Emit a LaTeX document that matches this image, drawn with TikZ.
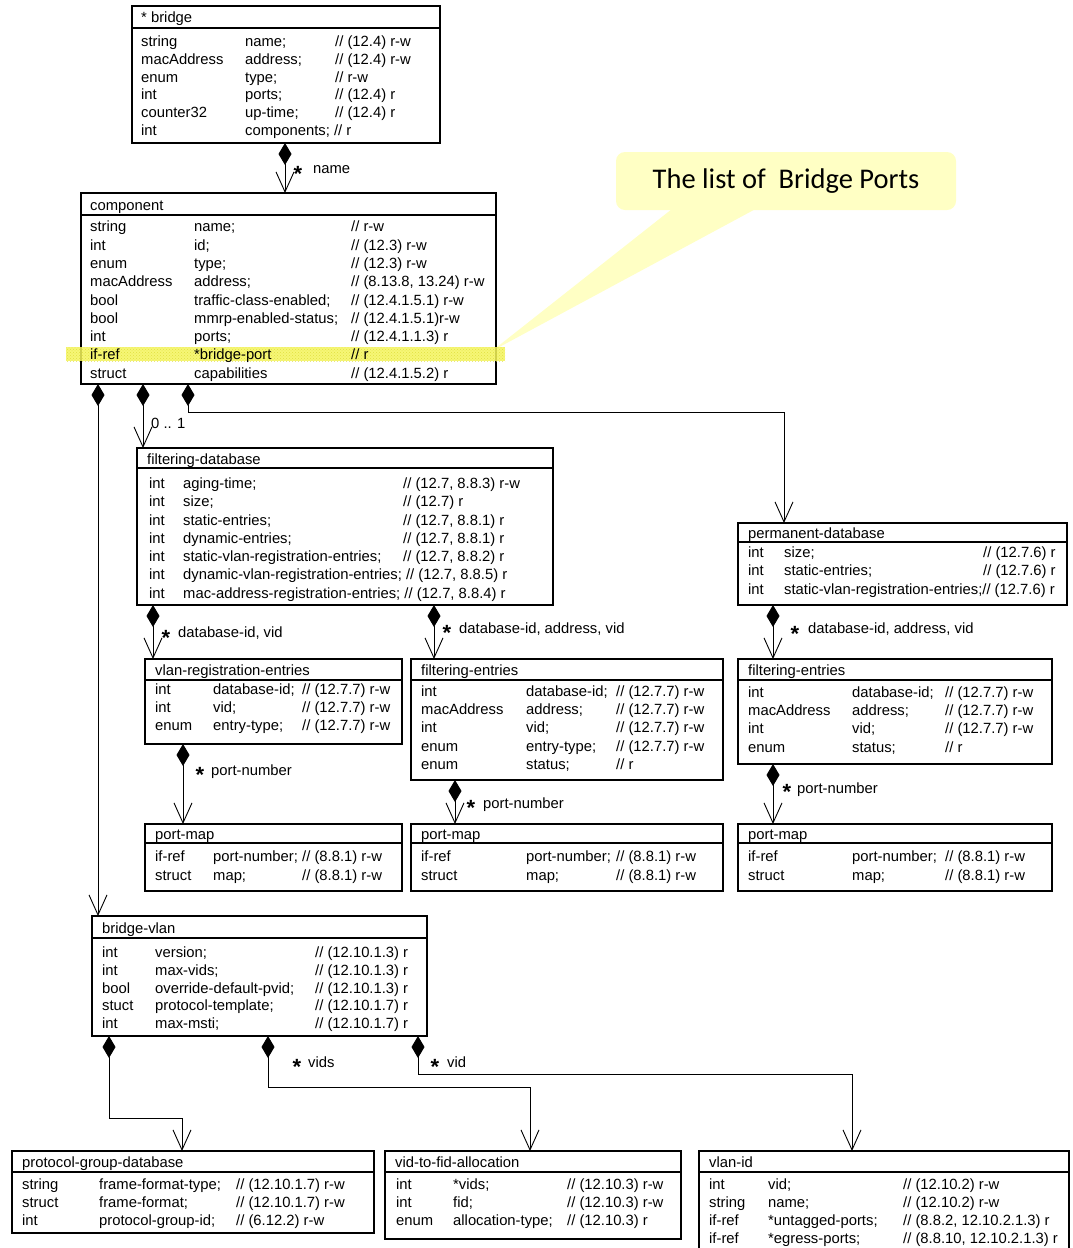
\documentclass[tikz,border=0pt]{standalone}
\usepackage{fontspec}
\setmainfont{Liberation Sans}
\newfontfamily\calloutfont{Carlito}
\usetikzlibrary{arrows.meta,patterns,calc}

\definecolor{notefill}{RGB}{255,255,196}
\definecolor{hlfill}{RGB}{245,245,95}
\definecolor{hldots}{RGB}{215,215,40}

\newcommand\bodyfont{\fontsize{14.8}{17}\selectfont}
\newcounter{txtno}
% class box: name, left, top, right, bottom, y of the rule under the title
\newcommand\classbox[6]{%
  \node[classframe, minimum width={#4-#2}, minimum height={#5-#3}, anchor=north west] (#1) at (#2,#3) {};
  \draw[classrule] (#2,#6) -- (#4,#6);}
% one piece of text: x, centre line y, text
\newcommand\txt[3]{\stepcounter{txtno}\node[cell] (txt\arabic{txtno}) at (#1,#2+5) {#3};}
% multiplicity star centred at x, y
\newcommand\mult[2]{\stepcounter{txtno}\node[multmark] (txt\arabic{txtno}) at (#1,#2+10.5) {*};}
% column positions of the attribute table
\newcommand\cols[3]{\def\ColOne{#1}\def\ColTwo{#2}\def\ColThree{#3}}
\newcommand\rw[4]{\txt{\ColOne}{#1}{#2}\txt{\ColTwo}{#1}{#3}\txt{\ColThree}{#1}{#4}}
\newcommand\rwj[3]{\txt{\ColOne}{#1}{#2}\txt{\ColTwo}{#1}{#3}}

\begin{document}
\begin{tikzpicture}[x=1pt,y=-1pt,
  classframe/.style={draw, line width=1.8pt, rectangle, inner sep=0pt, outer sep=0pt},
  classrule/.style={line width=1.8pt},
  cell/.style={anchor=base west, inner sep=0pt, font=\bodyfont},
  multmark/.style={anchor=base, inner sep=0pt, font=\fontsize{22}{22}\selectfont\bfseries},
  assoc/.style={line width=0.9pt, {Diamond[length=22pt,width=13pt]}-{Straight Barb[length=20pt,width=18pt]}},
  note/.style={fill=notefill, rounded corners=9pt, inner sep=0pt, minimum width=340pt,
    minimum height=58pt, font=\calloutfont\fontsize{28.5}{30}\selectfont}]

\fill[white] (0,0) rectangle (1072,1248);
\useasboundingbox (0,0) rectangle (1072,1248);

% callout
\node[note] (note) at (786,181) {The list of\ \ Bridge Ports};
\coordinate (tip) at (492,351);
\fill[notefill] ($(note.south)+(-113,-2)$) -- (tip) -- ($(note.south)+(-29,-2)$) -- cycle;

% bridge
\classbox{bridge}{132}{6}{440}{143}{28}
\txt{141}{17}{* bridge}
\cols{141}{245}{335}
\rw{41}{string}{name;}{// (12.4) r-w}
\rw{59}{macAddress}{address;}{// (12.4) r-w}
\rw{77}{enum}{type;}{// r-w}
\rw{94}{int}{ports;}{// (12.4) r}
\rw{112}{counter32}{up-time;}{// (12.4) r}
\rwj{130}{int}{components; // r}

% component
\classbox{comp}{81}{193}{496}{384}{215}
\fill[hlfill, opacity=0.85] (66,347) rectangle (505,361);
\fill[pattern=crosshatch dots, pattern color=hldots, opacity=0.7] (66,347) rectangle (505,361);
\txt{90}{205}{component}
\cols{90}{194}{351}
\rw{226}{string}{name;}{// r-w}
\rw{245}{int}{id;}{// (12.3) r-w}
\rw{263}{enum}{type;}{// (12.3) r-w}
\rw{281}{macAddress}{address;}{// (8.13.8, 13.24) r-w}
\rw{300}{bool}{traffic-class-enabled;}{// (12.4.1.5.1) r-w}
\rw{318}{bool}{mmrp-enabled-status;}{// (12.4.1.5.1)r-w}
\rw{336}{int}{ports;}{// (12.4.1.1.3) r}
\rw{354}{if-ref}{*bridge-port}{// r}
\rw{373}{struct}{capabilities}{// (12.4.1.5.2) r}

% filtering-database
\classbox{fdb}{137}{448}{553}{605}{468}
\txt{147}{459}{filtering-database}
\cols{149}{183}{403}
\rw{483}{int}{aging-time;}{// (12.7, 8.8.3) r-w}
\rw{501}{int}{size;}{// (12.7) r}
\rw{520}{int}{static-entries;}{// (12.7, 8.8.1) r}
\rw{538}{int}{dynamic-entries;}{// (12.7, 8.8.1) r}
\rw{556}{int}{static-vlan-registration-entries;}{// (12.7, 8.8.2) r}
\rwj{574}{int}{dynamic-vlan-registration-entries; // (12.7, 8.8.5) r}
\rwj{593}{int}{mac-address-registration-entries; // (12.7, 8.8.4) r}

% permanent-database
\classbox{pdb}{738}{523}{1067}{605}{542}
\txt{748}{533}{permanent-database}
\cols{748}{784}{983}
\rw{552}{int}{size;}{// (12.7.6) r}
\rw{570}{int}{static-entries;}{// (12.7.6) r}
\rwj{589}{int}{static-vlan-registration-entries;// (12.7.6) r}

% vlan-registration-entries
\classbox{vre}{145}{659}{402}{744}{680}
\txt{155}{670}{vlan-registration-entries}
\cols{155}{213}{302}
\rw{689}{int}{database-id;}{// (12.7.7) r-w}
\rw{707}{int}{vid;}{// (12.7.7) r-w}
\rw{725}{enum}{entry-type;}{// (12.7.7) r-w}

% filtering-entries (filtering database)
\classbox{fe1}{411}{659}{723}{780}{680}
\txt{421}{670}{filtering-entries}
\cols{421}{526}{616}
\rw{691}{int}{database-id;}{// (12.7.7) r-w}
\rw{709}{macAddress}{address;}{// (12.7.7) r-w}
\rw{727}{int}{vid;}{// (12.7.7) r-w}
\rw{746}{enum}{entry-type;}{// (12.7.7) r-w}
\rw{764}{enum}{status;}{// r}

% filtering-entries (permanent database)
\classbox{fe2}{738}{659}{1052}{764}{680}
\txt{748}{670}{filtering-entries}
\cols{748}{852}{945}
\rw{692}{int}{database-id;}{// (12.7.7) r-w}
\rw{710}{macAddress}{address;}{// (12.7.7) r-w}
\rw{728}{int}{vid;}{// (12.7.7) r-w}
\rw{747}{enum}{status;}{// r}

% port maps
\classbox{pm1}{145}{824}{402}{891}{843}
\txt{155}{834}{port-map}
\cols{155}{213}{302}
\rw{856}{if-ref}{port-number;}{// (8.8.1) r-w}
\rw{875}{struct}{map;}{// (8.8.1) r-w}

\classbox{pm2}{411}{824}{723}{891}{843}
\txt{421}{834}{port-map}
\cols{421}{526}{616}
\rw{856}{if-ref}{port-number;}{// (8.8.1) r-w}
\rw{875}{struct}{map;}{// (8.8.1) r-w}

\classbox{pm3}{738}{824}{1052}{891}{843}
\txt{748}{834}{port-map}
\cols{748}{852}{945}
\rw{856}{if-ref}{port-number;}{// (8.8.1) r-w}
\rw{875}{struct}{map;}{// (8.8.1) r-w}

% bridge-vlan
\classbox{bv}{92}{916}{427}{1036}{938}
\txt{102}{928}{bridge-vlan}
\cols{102}{155}{315}
\rw{952}{int}{version;}{// (12.10.1.3) r}
\rw{970}{int}{max-vids;}{// (12.10.1.3) r}
\rw{988}{bool}{override-default-pvid;}{// (12.10.1.3) r}
\rw{1005}{stuct}{protocol-template;}{// (12.10.1.7) r}
\rw{1023}{int}{max-msti;}{// (12.10.1.7) r}

% protocol-group-database
\classbox{pgd}{12}{1151}{374}{1233}{1172}
\txt{22}{1162}{protocol-group-database}
\cols{22}{99}{236}
\rw{1184}{string}{frame-format-type;}{// (12.10.1.7) r-w}
\rw{1202}{struct}{frame-format;}{// (12.10.1.7) r-w}
\rw{1220}{int}{protocol-group-id;}{// (6.12.2) r-w}

% vid-to-fid-allocation
\classbox{vtf}{385}{1151}{681}{1239}{1172}
\txt{395}{1162}{vid-to-fid-allocation}
\cols{396}{453}{567}
\rw{1184}{int}{*vids;}{// (12.10.3) r-w}
\rw{1202}{int}{fid;}{// (12.10.3) r-w}
\rw{1220}{enum}{allocation-type;}{// (12.10.3) r}

% vlan-id
\classbox{vlanid}{699}{1151}{1069}{1262}{1172}
\txt{709}{1162}{vlan-id}
\cols{709}{768}{903}
\rw{1184}{int}{vid;}{// (12.10.2) r-w}
\rw{1202}{string}{name;}{// (12.10.2) r-w}
\rw{1220}{if-ref}{*untagged-ports;}{// (8.8.2, 12.10.2.1.3) r}
\rw{1238}{if-ref}{*egress-ports;}{// (8.8.10, 12.10.2.1.3) r}

% routing points of the associations
\coordinate (a1) at (285,0);
\coordinate (a2) at (143,0);
\coordinate (a3) at (98,0);
\coordinate (a5) at (153,0);
\coordinate (a6) at (434,0);
\coordinate (a7) at (183,0);
\coordinate (a8) at (455,0);
\coordinate (a9) at (773,0);
\coordinate (k1) at (188,412);
\coordinate (k2) at (784,412);
\coordinate (k3) at (109,1118);
\coordinate (k4) at (182,1118);
\coordinate (k5) at (268,1087);
\coordinate (k6) at (530,1087);
\coordinate (k7) at (418,1074);
\coordinate (k8) at (852,1074);

% associations
\draw[assoc] (bridge.south -| a1) -- (comp.north -| a1);
\draw[assoc] (comp.south -| a2) -- (fdb.north -| a2);
\draw[assoc] (comp.south -| a3) -- (bv.north -| a3);
\draw[assoc] (comp.south -| k1) -- (k1) -- (k2) -- (pdb.north -| k2);
\draw[assoc] (fdb.south -| a5) -- (vre.north -| a5);
\draw[assoc] (fdb.south -| a6) -- (fe1.north -| a6);
\draw[assoc] (vre.south -| a7) -- (pm1.north -| a7);
\draw[assoc] (fe1.south -| a8) -- (pm2.north -| a8);
\draw[assoc] (pdb.south -| a9) -- (fe2.north -| a9);
\draw[assoc] (fe2.south -| a9) -- (pm3.north -| a9);
\draw[assoc] (bv.south -| k3) -- (k3) -- (k4) -- (pgd.north -| k4);
\draw[assoc] (bv.south -| k5) -- (k5) -- (k6) -- (vtf.north -| k6);
\draw[assoc] (bv.south -| k7) -- (k7) -- (k8) -- (vlanid.north -| k8);

% association labels
\mult{298}{171}\txt{313}{168}{name}
\txt{151}{423}{0 .. 1}
\mult{166}{635}\txt{178}{632}{database-id, vid}
\mult{447}{630}\txt{459}{628}{database-id, address, vid}
\mult{795}{631}\txt{808}{628}{database-id, address, vid}
\mult{200}{772}\txt{211}{770}{port-number}
\mult{471}{805}\txt{483}{803}{port-number}
\mult{787}{789}\txt{797}{788}{port-number}
\mult{297}{1064}\txt{308}{1062}{vids}
\mult{435}{1064}\txt{447}{1062}{vid}
\end{tikzpicture}
\end{document}
